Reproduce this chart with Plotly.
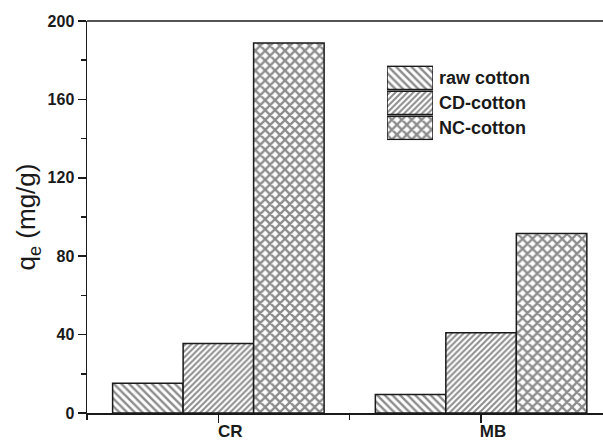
import plotly.graph_objects as go

# Adsorption capacity of the cotton samples for two dyes
dyes = ["CR", "MB"]
series_names = ["raw cotton", "CD-cotton", "NC-cotton"]
raw_cotton = [15.2, 9.5]
cd_cotton = [35.4, 41.0]
nc_cotton = [188.8, 91.6]

values = [raw_cotton, cd_cotton, nc_cotton]
patterns = [
    dict(shape="\\", size=5.4, solidity=0.45),
    dict(shape="/", size=4.2, solidity=0.47),
    dict(shape="x", size=7, solidity=0.55),
]

FONT = "Liberation Sans, Arial, sans-serif"
INK = "#1a1a1a"

fig = go.Figure()
xpos = list(range(len(dyes)))
for name, vals, pat in zip(series_names, values, patterns):
    fig.add_trace(go.Bar(
        x=xpos, y=vals, name=name, showlegend=False,
        marker=dict(color="white",
                    pattern=dict(**pat, fgcolor=INK, bgcolor="white",
                                 fillmode="overlay"),
                    line=dict(color=INK, width=1.5)),
    ))

# Legend swatches as a small bar panel with labels on its right side
fig.add_trace(go.Bar(
    x=[1, 1, 1], y=[0, 1, 2], orientation="h", width=0.93,
    xaxis="x2", yaxis="y2", showlegend=False, hoverinfo="skip",
    marker=dict(
        color="white",
        line=dict(color=INK, width=1.5),
        pattern=dict(
            shape=[p["shape"] for p in patterns],
            size=[p["size"] for p in patterns],
            solidity=[p["solidity"] for p in patterns],
            fgcolor=INK, bgcolor="white", fillmode="overlay",
        ),
    ),
))

# top frame line of the plot area
fig.add_shape(type="line", xref="paper", yref="paper",
              x0=0, x1=1, y0=1, y1=1, line=dict(color=INK, width=1.5))
# keep the right side of the frame open (the frame runs past the page edge)
fig.add_shape(type="rect", xref="paper", yref="paper", layer="above",
              x0=0.976, x1=1.02, y0=0.004, y1=0.996,
              fillcolor="white", line=dict(width=0, color="white"))

fig.update_layout(
    width=603, height=440,
    margin=dict(l=87, r=0, t=21, b=27),
    paper_bgcolor="white", plot_bgcolor="white",
    showlegend=False,
    barmode="group", bargap=0.195, bargroupgap=0,
    font=dict(family=FONT, color=INK),
    xaxis=dict(
        range=[-0.5, 1.464], tickvals=xpos, ticktext=dyes,
        automargin=False,
        showgrid=False, zeroline=False,
        showline=True, linecolor=INK, linewidth=1.5, mirror=False,
        ticks="outside", ticklen=8, tickwidth=1.5, tickcolor=INK,
        ticklabelshift=12, ticklabelstandoff=-6,
        tickfont=dict(size=17, family=FONT, weight="bold"),
        minor=dict(tickvals=[-0.5, 0.5], ticks="outside", showgrid=False,
                   ticklen=5, tickwidth=1.5, tickcolor=INK),
    ),
    yaxis=dict(
        range=[0, 200], tickvals=[0, 40, 80, 120, 160, 200],
        automargin=False, mirror=False,
        showgrid=False, zeroline=False,
        showline=True, linecolor=INK, linewidth=1.5,
        ticks="outside", ticklen=8, tickwidth=1.5, tickcolor=INK,
        tickfont=dict(size=16, family=FONT, weight="bold"),
        minor=dict(tickvals=[20, 60, 100, 140, 180], ticks="outside",
                   showgrid=False, ticklen=5, tickwidth=1.5, tickcolor=INK),
        title=dict(text="q<sub>e</sub> (mg/g)", standoff=4,
                   font=dict(size=26, family=FONT)),
    ),
    xaxis2=dict(domain=[0.5814, 0.6705], anchor="y2", range=[0, 1],
                visible=False, fixedrange=True, automargin=False),
    yaxis2=dict(domain=[0.6957, 0.887], anchor="x2", range=[2.5, -0.5],
                side="right", tickvals=[0, 1, 2], ticktext=series_names,
                ticks="", showline=False, showgrid=False, zeroline=False,
                ticklabelstandoff=5, automargin=False, fixedrange=True,
                tickfont=dict(size=18, family=FONT, weight="bold")),
)

fig.write_html("out.html", config={"staticPlot": True})
